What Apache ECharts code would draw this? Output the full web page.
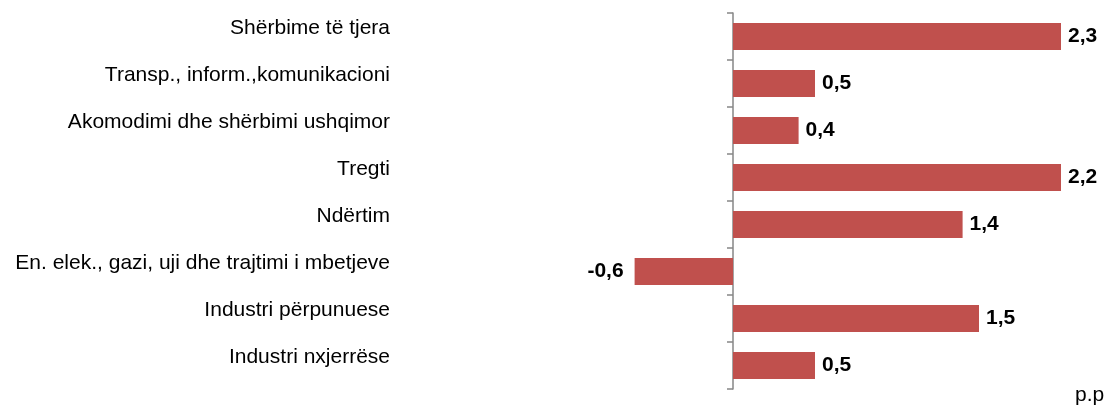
<!DOCTYPE html>
<html>
<head>
<meta charset="utf-8">
<script src="https://cdn.jsdelivr.net/npm/echarts@6/dist/echarts.min.js"></script>
<style>
html,body{margin:0;padding:0;background:#fff;}
#chart{width:1111px;height:405px;}
</style>
</head>
<body>
<div id="chart"></div>
<script>
var categories = [
  'Shërbime të tjera',
  'Transp., inform.,komunikacioni',
  'Akomodimi dhe shërbimi ushqimor',
  'Tregti',
  'Ndërtim',
  'En. elek., gazi, uji dhe trajtimi i mbetjeve',
  'Industri përpunuese',
  'Industri nxjerrëse'
];
var values = [2.3, 0.5, 0.4, 2.2, 1.4, -0.6, 1.5, 0.5];
var unitLabel = 'p.p';

var font = 'Liberation Sans, Arial, sans-serif';
var chart = echarts.init(document.getElementById('chart'));
chart.setOption({
  animation: false,
  grid: {left: 405, right: 50, top: 13, bottom: 16, containLabel: false, outerBoundsMode: 'none'},
  xAxis: {
    type: 'value', min: -2, max: 2,
    axisLine: {show: false}, axisTick: {show: false},
    axisLabel: {show: false}, splitLine: {show: false}
  },
  yAxis: {
    type: 'category',
    data: categories,
    inverse: true,
    axisLine: {show: true, onZero: true, lineStyle: {color: '#868686', width: 1.5}},
    axisTick: {show: true, length: 6, lineStyle: {color: '#868686', width: 1.5}},
    axisLabel: {
      margin: 15, color: '#000', fontFamily: font, fontSize: 21,
      align: 'right', verticalAlign: 'bottom', lineHeight: 17
    }
  },
  series: [{
    type: 'bar',
    barWidth: 27,
    clip: true,
    itemStyle: {color: '#C0504D'},
    label: {
      show: true, color: '#000', fontFamily: font, fontSize: 21, fontWeight: 'bold',
      distance: 7,
      formatter: function (p) { return String(p.value).replace('.', ','); }
    },
    data: values.map(function (v) {
      return {value: v, label: {position: v < 0 ? 'left' : 'right', distance: v < 0 ? 11 : 7}};
    })
  }],
  graphic: [{
    type: 'text', left: 1075, top: 385,
    style: {text: unitLabel, fill: '#000', font: '21px ' + font}
  }]
});
</script>
</body>
</html>
